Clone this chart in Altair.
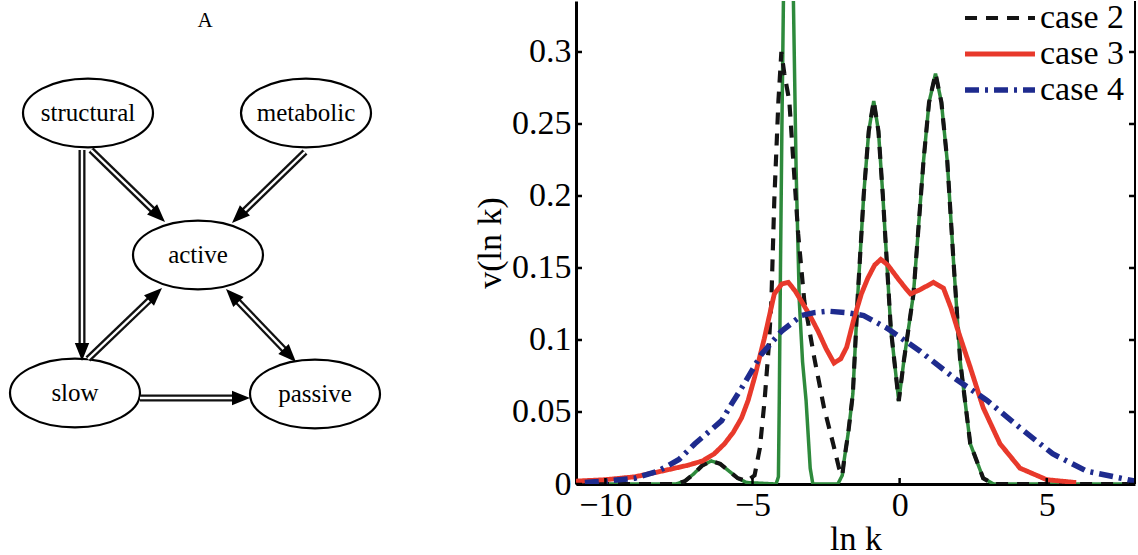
import math
import altair as alt
import pandas as pd

FONT = "Liberation Serif"

# ---------------- Panel A: compartment diagram (layout units) ----------------
node_names = ["structural", "metabolic", "active", "slow", "passive"]
node_x = [88, 306, 198, 75, 315]
node_y = [112, 112, 254, 392, 393]

edge_x1 = [82, 91, 305, 88, 226, 140]
edge_y1 = [149, 149, 151, 358, 288, 397]
edge_x2 = [82, 165, 232, 162, 296, 250]
edge_y2 = [360, 221, 222, 287, 361, 397]
edge_both = [False, False, False, False, True, False]

panel_label = ["A"]
panel_label_x = [205]
panel_label_y = [20]

# ---------------- Panel B: distributions over ln k ----------------
case_names = ["case 1", "case 2", "case 3", "case 4"]

c1_x = [-11, -7.6, -7.3, -7.0, -6.7, -6.4, -6.1, -5.8, -5.5, -5.2, -4.2, -4.12, -4.09, -4.05,
        -4.0, -3.95, -3.88, -3.78, -3.68, -3.61, -3.52, -3.41, -3.3, -3.18, -3.04, -2.95,
        -2.1, -1.95, -1.89, -1.75, -1.59, -1.42, -1.22, -1.05, -0.88, -0.72, -0.57, -0.3,
        -0.03, 0.14, 0.47, 0.81, 1.0, 1.22, 1.42, 1.62, 1.83, 2.06, 2.4, 2.84, 3.2, 8]
c1_y = [0, 0, 0.002, 0.007, 0.013, 0.016, 0.014, 0.009, 0.004, 0.001, 0, 0.005, 0.06, 0.15,
        0.25, 0.335, 0.42, 0.46, 0.42, 0.335, 0.22, 0.127, 0.085, 0.058, 0.011, 0,
        0, 0.006, 0.016, 0.035, 0.0625, 0.132, 0.201, 0.245, 0.266, 0.245, 0.20, 0.108,
        0.0576, 0.085, 0.132, 0.224, 0.265, 0.285, 0.265, 0.224, 0.155, 0.085, 0.028, 0.004, 0, 0]

c2_x = [-11, -7.6, -7.3, -7.0, -6.7, -6.4, -6.1, -5.8, -5.5, -5.2, -4.93, -4.75, -4.59, -4.45,
        -4.36, -4.26, -4.12, -4.02, -3.92, -3.75, -3.6, -3.45, -3.24, -2.9, -2.57, -2.26, -2.06,
        -1.95, -1.89, -1.75, -1.59, -1.42, -1.22, -1.05, -0.88, -0.72, -0.57, -0.3,
        -0.03, 0.14, 0.47, 0.81, 1.0, 1.22, 1.42, 1.62, 1.83, 2.06, 2.4, 2.84, 3.2, 8]
c2_y = [0, 0, 0.002, 0.007, 0.013, 0.016, 0.014, 0.009, 0.004, 0.002, 0.006, 0.025, 0.058, 0.095,
        0.127, 0.197, 0.266, 0.30, 0.285, 0.266, 0.22, 0.174, 0.127, 0.0875, 0.053, 0.028, 0.011,
        0.006, 0.016, 0.035, 0.0625, 0.132, 0.201, 0.245, 0.266, 0.245, 0.20, 0.108,
        0.0576, 0.085, 0.132, 0.224, 0.265, 0.285, 0.265, 0.224, 0.155, 0.085, 0.028, 0.004, 0, 0]

c3_x = [-11, -10, -9, -8.07, -7.2, -6.7, -6.3, -5.95, -5.65, -5.37, -5.15, -4.93, -4.6, -4.26,
        -4.0, -3.78, -3.55, -3.34, -3.05, -2.77, -2.5, -2.23, -2.0, -1.8, -1.55, -1.3, -1.08,
        -0.85, -0.64, -0.4, -0.07, 0.2, 0.37, 0.7, 1.15, 1.49, 1.75, 1.96, 2.4, 2.84, 3.41,
        4.09, 5.0, 6.0]
c3_y = [0.002, 0.003, 0.005, 0.009, 0.013, 0.016, 0.021, 0.028, 0.036, 0.046, 0.058, 0.074, 0.101,
        0.132, 0.139, 0.140, 0.134, 0.127, 0.117, 0.106, 0.094, 0.084, 0.087, 0.095, 0.115, 0.132,
        0.143, 0.152, 0.156, 0.152, 0.143, 0.136, 0.132, 0.135, 0.140, 0.136, 0.122, 0.108, 0.081,
        0.053, 0.028, 0.011, 0.003, 0.001]

c4_x = [-10.7, -10, -9, -8.2, -7.5, -6.96, -6.5, -6.05, -5.7, -5.3, -4.7, -4.02, -3.34, -2.9,
        -2.43, -1.8, -1.22, -0.41, 0.71, 1.83, 2.97, 4.09, 5.2, 6.35, 8.0]
c4_y = [0.001, 0.002, 0.004, 0.009, 0.017, 0.028, 0.036, 0.044, 0.056, 0.069, 0.090, 0.106, 0.117,
        0.119, 0.120, 0.119, 0.117, 0.108, 0.092, 0.074, 0.058, 0.039, 0.021, 0.009, 0.002]

x_ticks = [-10, -5, 0, 5]
y_ticks = [0, 0.05, 0.1, 0.15, 0.2, 0.25, 0.3]
X_MIN, X_MAX = -11, 8
Y_MAX = 0.3354

line_colors = ["#2e8a3c", "#141414", "#e8392b", "#1e2b8e"]
line_dashes = [[1, 0], [12, 9], [1, 0], [14, 6, 3, 6]]
line_widths = [3.5, 5.5, 4, 4.5]

# ---------------- build panel A ----------------
nodes_df = pd.DataFrame({"name": node_names, "x": node_x, "y": node_y})

HEAD_LEN = 18
edges, heads = [], []
for x1, y1, x2, y2, both in zip(edge_x1, edge_y1, edge_x2, edge_y2, edge_both):
    dx, dy = x2 - x1, y2 - y1
    L = math.hypot(dx, dy)
    ux, uy = dx / L, dy / L
    ang = math.degrees(math.atan2(dy, dx)) % 360
    sx, sy = x1, y1
    ex, ey = x2 - ux * 12, y2 - uy * 12
    heads.append({"x": x2, "y": y2, "angle": ang})
    if both:
        sx, sy = x1 + ux * 12, y1 + uy * 12
        heads.append({"x": x1, "y": y1, "angle": (ang + 180) % 360})
    edges.append({"x1": sx, "y1": sy, "x2": ex, "y2": ey})
edges_df = pd.DataFrame(edges)
heads_df = pd.DataFrame(heads)
label_df = pd.DataFrame({"t": panel_label, "x": panel_label_x, "y": panel_label_y})

r, k = 0.53, 0.5523
ELLIPSE = (f"M -1 0 C -1 {-k*r:.4f} {-k} {-r} 0 {-r} C {k} {-r} 1 {-k*r:.4f} 1 0 "
           f"C 1 {k*r:.4f} {k} {r} 0 {r} C {-k} {r} -1 {k*r:.4f} -1 0 Z")
ARROW = "M 0 0 L -1 -0.4 L -1 0.4 Z"

dx_s = alt.Scale(domain=[0, 400])
dy_s = alt.Scale(domain=[0, 440], reverse=True)

def XY(xf="x", yf="y"):
    return dict(x=alt.X(f"{xf}:Q", scale=dx_s, axis=None),
                y=alt.Y(f"{yf}:Q", scale=dy_s, axis=None))

ell = alt.Chart(nodes_df).mark_point(
    shape=ELLIPSE, size=16900, filled=True, fill="white", stroke="black",
    strokeWidth=2.2, opacity=1).encode(**XY())
node_txt = alt.Chart(nodes_df).mark_text(
    font=FONT, fontSize=25, color="black", baseline="middle", align="center").encode(
    text="name:N", **XY())
edge_outer = alt.Chart(edges_df).mark_rule(color="#111111", strokeWidth=7).encode(
    x=alt.X("x1:Q", scale=dx_s, axis=None), y=alt.Y("y1:Q", scale=dy_s, axis=None),
    x2="x2:Q", y2="y2:Q")
edge_inner = alt.Chart(edges_df).mark_rule(color="white", strokeWidth=2.4).encode(
    x=alt.X("x1:Q", scale=dx_s, axis=None), y=alt.Y("y1:Q", scale=dy_s, axis=None),
    x2="x2:Q", y2="y2:Q")
head_pts = alt.Chart(heads_df).mark_point(
    shape=ARROW, size=HEAD_LEN * HEAD_LEN * 4, filled=True, fill="black",
    strokeWidth=0, opacity=1).encode(angle=alt.Angle("angle:Q", scale=None), **XY())
panel_txt = alt.Chart(label_df).mark_text(
    font=FONT, fontSize=21, color="black", baseline="middle", align="center").encode(
    text="t:N", **XY())

left = alt.layer(ell, node_txt, edge_outer, edge_inner, head_pts, panel_txt).properties(
    width=400, height=440)

# ---------------- build panel B ----------------
rows = []
for name, xs_, ys_ in zip(case_names, [c1_x, c2_x, c3_x, c4_x], [c1_y, c2_y, c3_y, c4_y]):
    for i, (xv, yv) in enumerate(zip(xs_, ys_)):
        rows.append({"case": name, "lnk": xv, "v": yv, "i": i})
curves = pd.DataFrame(rows)

xs = alt.Scale(domain=[X_MIN, X_MAX], nice=False, zero=False)
ys = alt.Scale(domain=[0, Y_MAX], nice=False, zero=False)

x_axis = alt.Axis(values=x_ticks, title="ln k", labelFont=FONT, labelFontSize=34,
                  titleFont=FONT, titleFontSize=34, titleFontWeight="normal",
                  labelColor="black", titleColor="black", domainColor="black",
                  domainWidth=3, ticks=False, tickSize=0, labelPadding=4,
                  titlePadding=0, grid=False, labelFlush=False)
y_axis = alt.Axis(values=y_ticks, format="~g", title="v(ln k)", labelFont=FONT,
                  labelFontSize=34, titleFont=FONT, titleFontSize=34,
                  titleFontWeight="normal", labelColor="black", titleColor="black",
                  domainColor="black", domainWidth=3, ticks=False, tickSize=0,
                  labelPadding=5, titlePadding=4, grid=False, labelFlush=False)

# legend line: custom horizontal path, 70 px long
SYM = "M -3 0 H 3"
legend = alt.Legend(title=None, orient="none", legendX=983, legendY=0,
                    values=case_names[1:], symbolType=SYM, symbolSize=544,
                    symbolStrokeWidth=4, symbolFillColor="transparent",
                    labelFont=FONT, labelFontSize=34,
                    labelColor="black", labelOffset=23, padding=0, rowPadding=2,
                    labelLimit=0)

base = alt.Chart(curves).mark_line(clip=True).encode(
    x=alt.X("lnk:Q", scale=xs, axis=x_axis),
    y=alt.Y("v:Q", scale=ys, axis=y_axis),
    order="i:Q",
    color=alt.Color("case:N", scale=alt.Scale(domain=case_names, range=line_colors),
                    legend=legend),
    strokeDash=alt.StrokeDash("case:N", scale=alt.Scale(domain=case_names, range=line_dashes),
                              legend=legend),
    strokeWidth=alt.StrokeWidth("case:N", scale=alt.Scale(domain=case_names, range=line_widths),
                                legend=None),
)
line_layers = [base.transform_filter(alt.datum.case == c) for c in case_names]

yt_df = pd.DataFrame({"v": y_ticks})
xt_df = pd.DataFrame({"lnk": x_ticks})

left_ticks = alt.Chart(yt_df).mark_rule(color="black", strokeWidth=2.5, x2Offset=6).encode(
    x=alt.datum(X_MIN), x2=alt.datum(X_MIN), y=alt.Y("v:Q", scale=ys, axis=y_axis))
right_ticks = alt.Chart(yt_df).mark_rule(color="black", strokeWidth=2.5, x2Offset=-6).encode(
    x=alt.datum(X_MAX), x2=alt.datum(X_MAX), y=alt.Y("v:Q", scale=ys, axis=y_axis))
bottom_ticks = alt.Chart(xt_df).mark_rule(color="black", strokeWidth=2.5, y2Offset=-6).encode(
    x=alt.X("lnk:Q", scale=xs, axis=x_axis), y=alt.datum(0), y2=alt.datum(0))
right_border = alt.Chart(yt_df).mark_rule(color="black", strokeWidth=1.5).encode(
    x=alt.datum(X_MAX))

right = alt.layer(*line_layers, left_ticks, right_ticks, bottom_ticks, right_border).properties(
    width=559, height=483)

chart = alt.hconcat(left, right, spacing=176, bounds="flush").properties(
    padding=0, background="white").configure_view(stroke=None)

chart.save("out.html", embed_options={"renderer": "svg", "actions": False})
